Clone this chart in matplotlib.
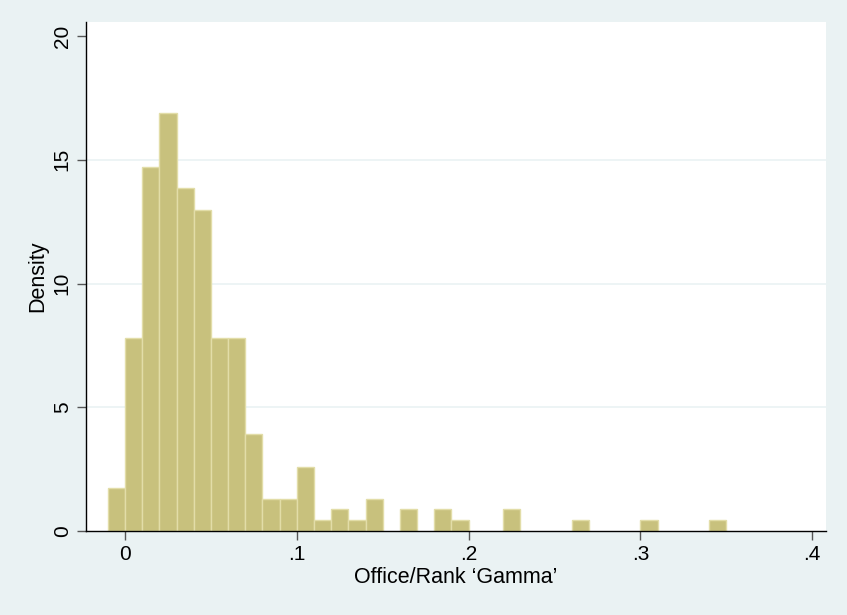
import matplotlib
matplotlib.use("Agg")
import matplotlib.pyplot as plt

# histogram bins (left edges, width .01) and density heights
bin_left = [-0.01, 0.00, 0.01, 0.02, 0.03, 0.04, 0.05, 0.06, 0.07, 0.08,
            0.09, 0.10, 0.11, 0.12, 0.13, 0.14, 0.16, 0.18, 0.19, 0.22,
            0.26, 0.30, 0.34]
density = [1.73, 7.79, 14.72, 16.88, 13.85, 12.99, 7.79, 7.79, 3.90, 1.30,
           1.30, 2.60, 0.43, 0.87, 0.43, 1.30, 0.87, 0.87, 0.43, 0.87,
           0.43, 0.43, 0.43]
bin_width = 0.01

xticks = [0, 0.1, 0.2, 0.3, 0.4]
xticklabels = ['0', '.1', '.2', '.3', '.4']
yticks = [0, 5, 10, 15, 20]
gridlines = [5, 10, 15]

bg = '#EAF2F3'
plt.rcParams['font.family'] = ['Liberation Sans', 'DejaVu Sans']

fig = plt.figure(figsize=(8.47, 6.15), dpi=100, facecolor=bg)
W, H = 847, 615
ax = fig.add_axes([86 / W, 1 - 531 / H, (826 - 86) / W, (531 - 22) / H])
ax.set_facecolor('white')

for g in gridlines:
    ax.axhline(g, color=bg, lw=1.2, zorder=0)

ax.bar(bin_left, density, width=bin_width, align='edge',
       color='#C8C17D', edgecolor='#E2DDA8', linewidth=1.0, zorder=2)

ax.set_xlim(-0.0227, 0.408)
ax.set_ylim(0, 20.57)
ax.set_xticks(xticks)
ax.set_xticklabels(xticklabels)
ax.set_yticks(yticks)
ax.set_yticklabels([str(t) for t in yticks], rotation=90, va='center')

for s in ['top', 'right']:
    ax.spines[s].set_visible(False)
for s in ['left', 'bottom']:
    ax.spines[s].set_linewidth(1.0)
    ax.spines[s].set_color('black')

ax.tick_params(axis='both', direction='out', length=6.2, width=1,
               color='#555555', labelsize=15, pad=4)
ax.set_xlabel('Office/Rank \u2018Gamma\u2019', fontsize=15.5, labelpad=2)
ax.set_ylabel('Density', fontsize=15.5, labelpad=3)

fig.savefig('out.png', dpi=100, facecolor=bg)
